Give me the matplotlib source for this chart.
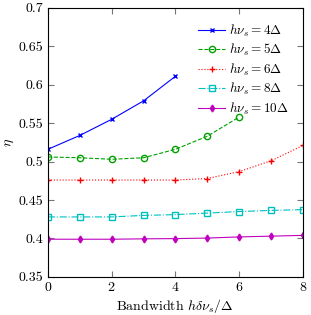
import matplotlib
matplotlib.use("Agg")
import matplotlib.pyplot as plt

plt.rcParams["font.family"] = "serif"
plt.rcParams["font.serif"] = ["cmr10"]
plt.rcParams["mathtext.fontset"] = "cm"
plt.rcParams["axes.formatter.use_mathtext"] = True
plt.rcParams["font.size"] = 10

# efficiency vs bandwidth, one list per photon energy
x4 = [0, 1, 2, 3, 4]
eta4 = [0.516, 0.534, 0.555, 0.579, 0.611]
x5 = [0, 1, 2, 3, 4, 5, 6]
eta5 = [0.506, 0.505, 0.503, 0.505, 0.516, 0.533, 0.558]
x6 = [0, 1, 2, 3, 4, 5, 6, 7, 8]
eta6 = [0.476, 0.476, 0.476, 0.476, 0.476, 0.478, 0.487, 0.501, 0.521]
x8 = [0, 1, 2, 3, 4, 5, 6, 7, 8]
eta8 = [0.428, 0.428, 0.428, 0.430, 0.431, 0.433, 0.435, 0.4365, 0.4375]
x10 = [0, 1, 2, 3, 4, 5, 6, 7, 8]
eta10 = [0.399, 0.399, 0.399, 0.3995, 0.3998, 0.4005, 0.402, 0.403, 0.404]

fig = plt.figure(figsize=(3.11, 3.15), dpi=100)
ax = fig.add_axes([0.154, 0.121, 0.82, 0.854])

ax.plot(x4, eta4, color="blue", ls="-", marker="x", ms=3.5, lw=0.8,
        label=r"$h\nu_s = 4\Delta$")
ax.plot(x5, eta5, color="#00a000", ls="--", marker="o", ms=4.5, mfc="none", lw=0.8,
        label=r"$h\nu_s = 5\Delta$")
ax.plot(x6, eta6, color="red", ls=":", marker="+", ms=5, lw=0.8,
        label=r"$h\nu_s = 6\Delta$")
ax.plot(x8, eta8, color="#00bfbf", ls="-.", marker="s", ms=4.5, mfc="none", lw=0.8,
        label=r"$h\nu_s = 8\Delta$")
ax.plot(x10, eta10, color="#bf00bf", ls="-", marker="d", ms=3.5, lw=0.8,
        label=r"$h\nu_s = 10\Delta$")

ax.set_xlim(0, 8)
ax.set_ylim(0.35, 0.7)
ax.set_xticks([0, 2, 4, 6, 8])
ax.set_yticks([0.35, 0.4, 0.45, 0.5, 0.55, 0.6, 0.65, 0.7])
ax.set_yticklabels(["0.35", "0.4", "0.45", "0.5", "0.55", "0.6", "0.65", "0.7"])
ax.tick_params(direction="in", top=True, right=True, length=4, color="#777777", pad=3)
ax.set_xlabel(r"Bandwidth $h\delta\nu_s/\Delta$", labelpad=2)
ax.set_ylabel(r"$\eta$", labelpad=2)
ax.legend(loc="upper right", frameon=False, handlelength=2.0, fontsize=9.5,
          borderaxespad=0.7, labelspacing=0.25, handletextpad=0.3)

fig.savefig("out.png", dpi=100)
